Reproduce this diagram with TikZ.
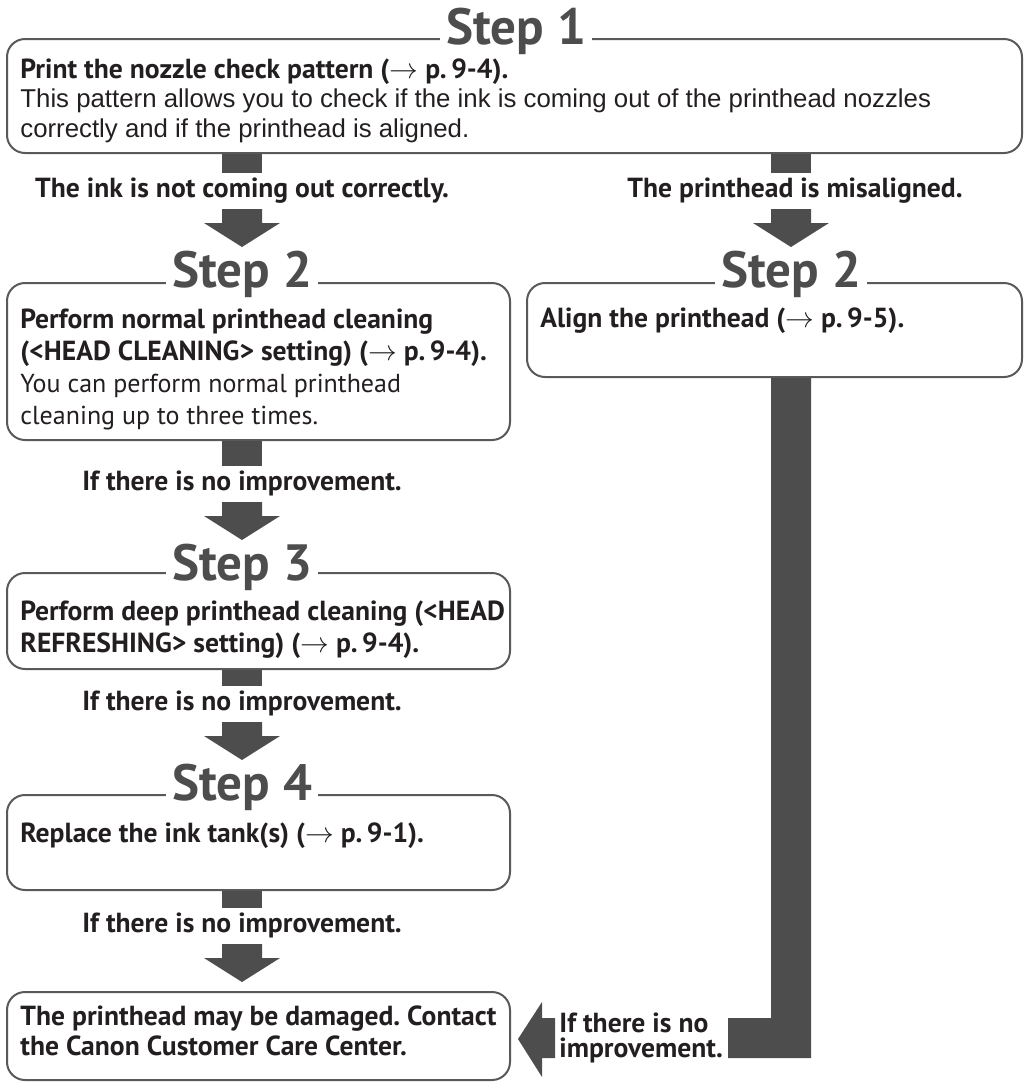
\documentclass[tikz,border=0pt]{standalone}
\usepackage{fontspec}
\setmainfont{PT Sans}
\newfontfamily\helv{Liberation Sans}
\usetikzlibrary{calc, fit}
\definecolor{arrowGray}{HTML}{4D4D4D}
\definecolor{frameGray}{HTML}{58595B}
\definecolor{inkBlack}{HTML}{231F20}
\frenchspacing

\begin{document}
\begin{tikzpicture}[x=0.5pt, y=-0.5pt,
    stepbox/.style={draw=frameGray, line width=1pt, rounded corners=9pt, inner sep=0pt},
    steptitle/.style={anchor=base, fill=white, text=arrowGray, inner xsep=3pt, inner ysep=0pt,
        font=\fontsize{25.5}{25.5}\selectfont\bfseries},
    body/.style={anchor=base west, inner sep=0pt, text=inkBlack, align=left,
        font=\fontsize{13}{16}\selectfont},
    cond/.style={anchor=base, inner sep=0pt, text=inkBlack, font=\fontsize{13.8}{16}\selectfont\bfseries}]
    \useasboundingbox (0,0) rectangle (1027,1083);
    \coordinate (lcol) at (242,0);
    \coordinate (rcol) at (791,0);
    \coordinate (rbar) at (771,0);

    % boxes
    \node[stepbox, fit={(7,39) (1022,153)}] (s1) {};
    \node[stepbox, fit={(7,283) (510,440)}] (s2l) {};
    \node[stepbox, fit={(527,283) (1022,377)}] (s2r) {};
    \node[stepbox, fit={(7,573) (510,669)}] (s3) {};
    \node[stepbox, fit={(7,795) (510,890)}] (s4) {};
    \node[stepbox, fit={(7,992) (510,1080)}] (care) {};

    \node[steptitle] (t1) at (516,44) {Step 1};
    \node[steptitle] (t2l) at (lcol |- 0,287) {Step 2};
    \node[steptitle] (t2r) at (rcol |- 0,287) {Step 2};
    \node[steptitle] (t3) at (lcol |- 0,580) {Step 3};
    \node[steptitle] (t4) at (lcol |- 0,800) {Step 4};

    % box texts (anchored on their last line)
    \node[body, font=\fontsize{13.8}{14.75}\selectfont] (b1) at (20,137)
        {\textbf{Print the nozzle check pattern ($\rightarrow$ p.\,9-4).}\\
         {\helv\fontsize{12.9}{14.75}\selectfont This pattern allows you to check if the ink is coming out of the printhead nozzles}\\
         {\helv\fontsize{12.9}{14.75}\selectfont correctly and if the printhead is aligned.}};
    \node[body] (b2l) at (20,424)
        {{\fontsize{13.8}{16}\selectfont\bfseries Perform normal printhead cleaning}\\
         {\fontsize{13.8}{16}\selectfont\bfseries (<HEAD CLEANING> setting) ($\rightarrow$ p.\,9-4).}\\
         You can perform normal printhead\\
         cleaning up to three times.};
    \node[body, font=\fontsize{13.8}{16}\selectfont\bfseries] (b2r) at (540,327)
        {Align the printhead ($\rightarrow$ p.\,9-5).};
    \node[body, font=\fontsize{13.8}{16}\selectfont\bfseries] (b3) at (20,652)
        {Perform deep printhead cleaning (<HEAD\\
         REFRESHING> setting) ($\rightarrow$ p.\,9-4).};
    \node[body, font=\fontsize{13.8}{16}\selectfont\bfseries] (b4) at (20,842)
        {Replace the ink tank(s) ($\rightarrow$ p.\,9-1).};
    \node[body, font=\fontsize{13.8}{15}\selectfont\bfseries] (b5) at (20,1055)
        {The printhead may be damaged. Contact\\
         the Canon Customer Care Center.};

    % conditions
    \node[cond] (c1) at (lcol |- 0,197) {The ink is not coming out correctly.};
    \node[cond] (c2) at (795,197) {The printhead is misaligned.};
    \node[cond] (c3) at (lcol |- 0,490) {If there is no improvement.};
    \node[cond] (c4) at (lcol |- 0,710) {If there is no improvement.};
    \node[cond] (c5) at (lcol |- 0,932) {If there is no improvement.};
    \node[cond, anchor=base west, align=left, font=\fontsize{13.8}{12.5}\selectfont\bfseries] (c6)
        at (559,1057) {If there is no\\improvement.};

    % stubs below the boxes
    \foreach \bx/\cnd/\col in {s1/c1/lcol, s1/c2/rcol, s2l/c3/lcol, s3/c4/lcol, s4/c5/lcol}
        \fill[arrowGray] ($(\bx.south -| \col)+(-20,0)$) rectangle ($(\cnd.base -| \col)+(20,-24)$);

    % block arrows
    \foreach \cnd/\col in {c1/lcol, c2/rcol, c3/lcol, c4/lcol, c5/lcol}
        \fill[arrowGray] ($(\cnd.base -| \col)+(-20,12)$) -- ++(40,0) -- ++(0,14)
            -- ++(18,0) -- ++(-38,24) -- ++(-38,-24) -- ++(18,0) -- cycle;

    % misaligned path back to the care box
    \fill[arrowGray] (s2r.south -| rbar) -- ++(40,0) |- ($(c6.base east)+(5,1)$)
        -- ++(0,-40) -| (s2r.south -| rbar) -- cycle;
    \fill[arrowGray] ($(c6.base west)+(-4,-39)$) -- ++(-13,0) -- ++(0,-16) -- ++(-24,37)
        -- ++(24,38) -- ++(0,-19) -- ++(13,0) -- cycle;
\end{tikzpicture}
\end{document}
